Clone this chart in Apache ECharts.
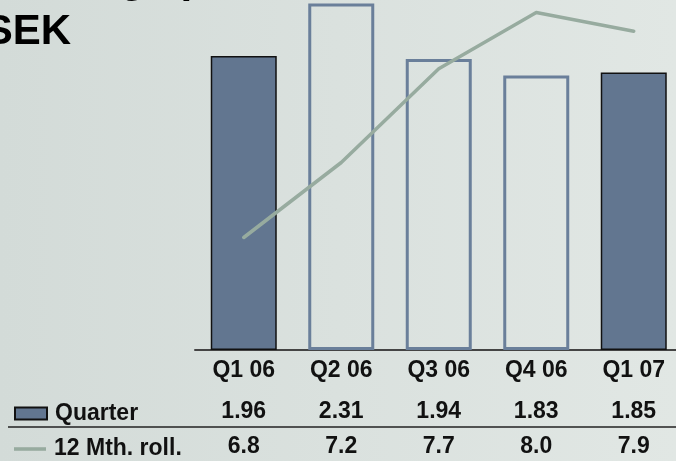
<!DOCTYPE html>
<html>
<head>
<meta charset="utf-8">
<script src="https://cdn.jsdelivr.net/npm/echarts@6/dist/echarts.min.js"></script>
<style>
  html,body{margin:0;padding:0;}
  #eps-chart{width:676px;height:461px;}
</style>
</head>
<body>
<div id="eps-chart"></div>
<script>
  // categories and values
  var quarters = ['Q1 06', 'Q2 06', 'Q3 06', 'Q4 06', 'Q1 07'];
  var quarterEps = [1.96, 2.31, 1.94, 1.83, 1.85];
  var rolling12 = [6.8, 7.2, 7.7, 8.0, 7.9];
  var hollowBars = [1, 2, 3];   // Q2-Q4 drawn as outlines only

  var font = '"Liberation Sans", Arial, sans-serif';
  var epsChart = echarts.init(document.getElementById('eps-chart'));

  var barData = quarterEps.map(function (v, i) {
    if (hollowBars.indexOf(i) < 0) return v;
    return {value: v, itemStyle: {color: 'rgba(0,0,0,0)', borderColor: '#6a7f9a', borderWidth: 3}};
  });

  var labelText = {color: '#111', fontFamily: font, fontWeight: 'bold', fontSize: 23, lineHeight: 23};

  function rowAxis(data, offset) {
    return {
      type: 'category', position: 'bottom', offset: offset, data: data,
      axisLine: {show: false}, axisTick: {show: false},
      axisLabel: Object.assign({interval: 0, margin: 9}, labelText)
    };
  }

  // one legend per table row so each sits next to its own line of numbers
  function rowLegend(item, top) {
    return {
      left: 14, top: top, padding: 0, itemWidth: 32, itemHeight: 12, selectedMode: false,
      textStyle: Object.assign({padding: [0, 0, 0, 3]}, labelText),
      data: [item]
    };
  }

  var epsOption = {
    backgroundColor: {
      type: 'linear', x: 0, y: 0, x2: 1, y2: 0,
      colorStops: [{offset: 0, color: '#d3dbd8'}, {offset: 1, color: '#e1e7e4'}]
    },
    animation: false,
    grid: {left: 195, width: 487.5, top: 0, bottom: 111, outerBoundsMode: 'none'},
    legend: [
      rowLegend({name: 'Quarter', icon: 'rect'}, 402),
      rowLegend({name: '12 Mth. roll.', icon: 'path://M0,0 H36 V4 H0 Z'}, 437.5)
    ],
    xAxis: [
      {
        type: 'category', data: quarters,
        axisLine: {lineStyle: {color: '#444', width: 2}},
        axisTick: {show: false},
        axisLabel: Object.assign({interval: 0, margin: 9}, labelText)
      },
      rowAxis(quarterEps.map(function (v) { return v.toFixed(2); }), 41.5),
      rowAxis(rolling12.map(function (v) { return v.toFixed(1); }), 76.5)
    ],
    yAxis: [
      {type: 'value', min: 0, max: 350 / 150, show: false},
      {type: 'value', min: 6.2, max: 6.2 + 350 / 187.5, show: false}
    ],
    graphic: [
      {type: 'text', x: -11, y: -41, style: {text: 'Earnings per share', font: 'bold 42px ' + font, fill: '#000', align: 'left', verticalAlign: 'top'}},
      {type: 'text', x: 71, y: 11, style: {text: 'SEK', font: 'bold 42px ' + font, fill: '#000', align: 'right', verticalAlign: 'top'}},
      {type: 'line', shape: {x1: 8, y1: 427, x2: 676, y2: 427}, style: {stroke: '#222', lineWidth: 1.5}}
    ],
    series: [
      {
        name: 'Quarter', type: 'bar', barWidth: 66,
        itemStyle: {color: '#627690', borderColor: '#111', borderWidth: 1.5},
        data: barData
      },
      {
        name: '12 Mth. roll.', type: 'line', yAxisIndex: 1,
        symbol: 'none', color: '#97ab9f',
        lineStyle: {color: '#97ab9f', width: 3.5, cap: 'round', join: 'round'},
        data: rolling12
      }
    ]
  };

  epsOption && epsChart.setOption(epsOption);
</script>
</body>
</html>
